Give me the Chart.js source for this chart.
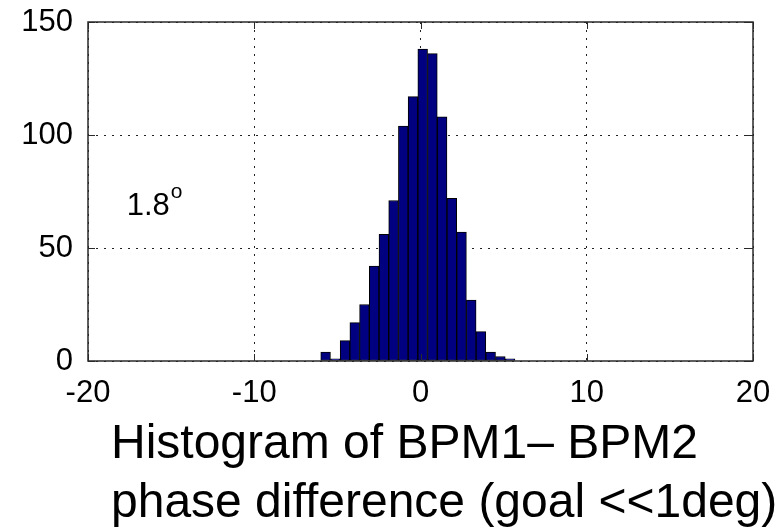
<!DOCTYPE html>
<html>
<head>
<meta charset="utf-8">
<script src="https://cdn.jsdelivr.net/npm/chart.js@4.4.1/dist/chart.umd.min.js"></script>
<style>
  body { margin: 0; background: #fff; }
  canvas { display: block; }
</style>
</head>
<body>
<canvas id="histChart" width="778" height="528"></canvas>
<script>
// bin centres (deg) and counts
const binCenters = [-5.708, -5.124, -4.540, -3.956, -3.372, -2.788, -2.204, -1.620, -1.036, -0.452,
                    0.132, 0.716, 1.300, 1.884, 2.468, 3.052, 3.636, 4.220, 4.804, 5.388];
const counts = [4, 1, 9, 17, 25, 42, 56, 71, 104, 117, 138, 136, 108, 72, 57, 27, 13, 4, 2, 1];
const xTicks = [-20, -10, 0, 10, 20];
const yTicks = [0, 50, 100, 150];
const captionLines = ['Histogram of BPM1\u2013 BPM2', 'phase difference (goal <<1deg)'];

const FONT = '"Liberation Sans", Arial, sans-serif';

const matlabFrame = {
    id: 'matlabFrame',
    afterDraw(chart) {
        const ctx = chart.ctx;
        const a = chart.chartArea;
        const xs = chart.scales.x, ys = chart.scales.y;
        ctx.save();
        ctx.strokeStyle = '#2a2a2a';
        ctx.lineWidth = 1.5;
        ctx.strokeRect(a.left, a.top, a.right - a.left, a.bottom - a.top);

        // inward tick marks on all four sides
        ctx.lineWidth = 1;
        ctx.beginPath();
        xTicks.forEach(v => {
            const px = Math.round(xs.getPixelForValue(v)) + 0.5;
            ctx.moveTo(px, a.bottom); ctx.lineTo(px, a.bottom - 7);
            ctx.moveTo(px, a.top); ctx.lineTo(px, a.top + 7);
        });
        yTicks.forEach(v => {
            const py = Math.round(ys.getPixelForValue(v)) + 0.5;
            ctx.moveTo(a.left, py); ctx.lineTo(a.left + 7, py);
            ctx.moveTo(a.right, py); ctx.lineTo(a.right - 7, py);
        });
        ctx.stroke();

        // annotation 1.8 degrees
        ctx.fillStyle = '#000';
        ctx.textBaseline = 'alphabetic';
        ctx.font = '31px ' + FONT;
        const ax = xs.getPixelForValue(-17.67);
        const ay = ys.getPixelForValue(64.6);
        ctx.fillText('1.8', ax, ay);
        const w = ctx.measureText('1.8').width;
        ctx.font = '21px ' + FONT;
        ctx.fillText('o', ax + w + 1, ay - 17);

        // caption under the plot
        ctx.font = '48px ' + FONT;
        ctx.fillText(captionLines[0], 111, 458);
        ctx.fillText(captionLines[1], 111, 517);
        ctx.restore();
    }
};

new Chart(document.getElementById('histChart'), {
    type: 'bar',
    data: {
        datasets: [{
            data: binCenters.map((c, i) => ({ x: c, y: counts[i] })),
            backgroundColor: '#000080',
            borderColor: '#000000',
            borderWidth: 1,
            borderSkipped: false,
            barPercentage: 1,
            categoryPercentage: 1
        }]
    },
    options: {
        responsive: false,
        animation: false,
        layout: { padding: { top: 22, right: 25, left: 0, bottom: 0 } },
        plugins: { legend: { display: false }, tooltip: { enabled: false } },
        scales: {
            x: {
                type: 'linear',
                offset: false,
                min: -20,
                max: 20,
                afterBuildTicks: s => { s.ticks = xTicks.map(v => ({ value: v })); },
                afterFit: s => { s.height = 167; s.paddingLeft = 0; s.paddingRight = 0; },
                grid: { color: '#222', lineWidth: 1, drawTicks: false, offset: false },
                border: { display: false, dash: [2, 6] },
                ticks: { color: '#000', padding: 14, maxRotation: 0, font: { family: FONT, size: 31 } }
            },
            y: {
                min: 0,
                max: 150,
                afterBuildTicks: s => { s.ticks = yTicks.map(v => ({ value: v })); },
                afterFit: s => { s.width = 88; s.paddingTop = 0; s.paddingBottom = 0; },
                grid: { color: '#222', lineWidth: 1, drawTicks: false },
                border: { display: false, dash: [2, 6] },
                ticks: { color: '#000', padding: 15, font: { family: FONT, size: 31 } }
            }
        }
    },
    plugins: [matlabFrame]
});
</script>
</body>
</html>
